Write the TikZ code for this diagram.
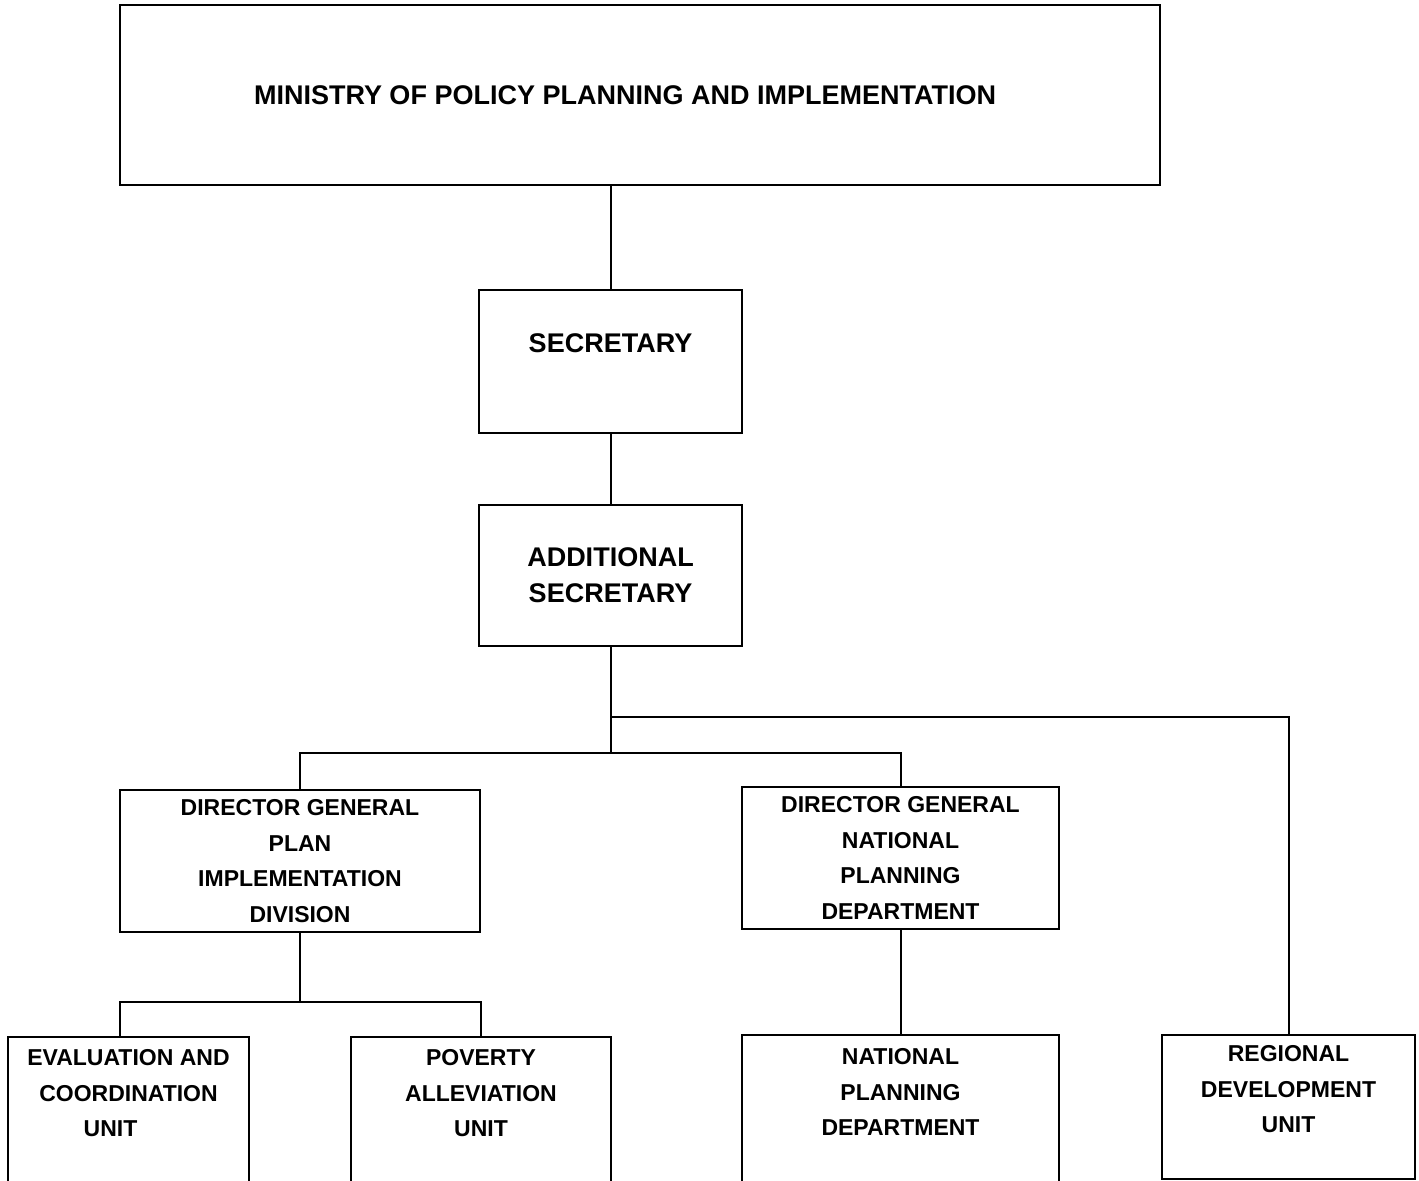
\documentclass[tikz,border=0pt]{standalone}
\usepackage{fontspec}
\setsansfont{Liberation Sans}
\usetikzlibrary{positioning}

\begin{document}
\begin{tikzpicture}[
  x=0.5pt,y=-0.5pt,
  line width=1pt,
  topbox/.style={draw,align=center,
                 font=\sffamily\bfseries\fontsize{13.5}{18}\selectfont},
  unitbox/.style={draw,align=center,
                  font=\sffamily\bfseries\fontsize{11.5}{17.75}\selectfont},
  link/.style={draw,line width=1pt}
]
\clip (0,0) rectangle (1419,1181);
\node[topbox,minimum width=520pt,minimum height=90pt] (ministry) at (640,95)
  {\mbox{MINISTRY OF POLICY PLANNING AND IMPLEMENTATION\hspace{15pt}}};
\node[topbox,minimum width=131.5pt,minimum height=71.5pt] (secretary) at (610.5,361.5)
  {SECRETARY\\\mbox{}};
\node[topbox,minimum width=131.5pt,minimum height=70.5pt] (addsec) at (610.5,575.5)
  {ADDITIONAL\\SECRETARY};
\node[unitbox,minimum width=180pt,minimum height=71pt] (pid) at (300,861)
  {DIRECTOR GENERAL\\PLAN\\IMPLEMENTATION\\DIVISION};
\node[unitbox,minimum width=158.5pt,minimum height=71pt] (npdg) at (900.5,858)
  {DIRECTOR GENERAL\\NATIONAL\\PLANNING\\DEPARTMENT};
\node[unitbox,minimum width=120.5pt,minimum height=74pt] (evaluation) at (128.5,1111)
  {EVALUATION AND\\COORDINATION\\\mbox{UNIT\hspace{18pt}}\\\mbox{}};
\node[unitbox,minimum width=130pt,minimum height=74pt] (poverty) at (481,1111)
  {POVERTY\\ALLEVIATION\\UNIT\\\mbox{}};
\node[unitbox,minimum width=158.5pt,minimum height=75pt] (npd) at (900.5,1110)
  {NATIONAL\\PLANNING\\DEPARTMENT\\\mbox{}};
\node[unitbox,minimum width=126.5pt,minimum height=72pt] (regional) at (1288.5,1107)
  {REGIONAL\\DEVELOPMENT\\UNIT\\\mbox{}};

\coordinate (fork) at ([yshift=-35pt]addsec.south);
\coordinate (split) at ([yshift=-53pt]addsec.south);
\coordinate (pidsplit) at ([yshift=-34.5pt]pid.south);

\draw[link] (ministry.south -| secretary.north) -- (secretary.north);
\draw[link] (secretary.south) -- (addsec.north);
\draw[link] (addsec.south) -- (split);
\draw[link] (fork) -| (regional.north);
\draw[link] (pid.north) |- (split) -| (npdg.north);
\draw[link] (pid.south) -- (pidsplit);
\draw[link] ([xshift=-4.25pt]evaluation.north) |- (pidsplit) -| (poverty.north);
\draw[link] (npdg.south) -- (npd.north);
\end{tikzpicture}
\end{document}
